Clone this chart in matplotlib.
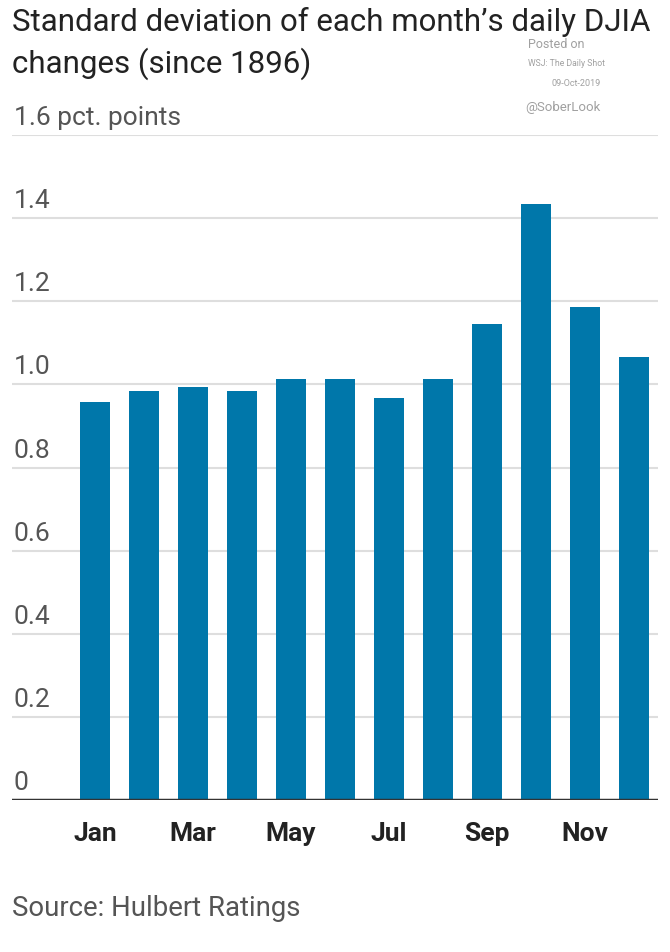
import numpy as np
import matplotlib
matplotlib.use("Agg")
import matplotlib.pyplot as plt

# std dev of daily DJIA changes, by month
months = ["Jan", "Feb", "Mar", "Apr", "May", "Jun",
          "Jul", "Aug", "Sep", "Oct", "Nov", "Dec"]
stdev = [0.957, 0.983, 0.993, 0.983, 1.014, 1.014,
         0.968, 1.014, 1.145, 1.434, 1.186, 1.067]
yticks = [0, 0.2, 0.4, 0.6, 0.8, 1.0, 1.2, 1.4, 1.6]
ylabels = ["0", "0.2", "0.4", "0.6", "0.8", "1.0", "1.2", "1.4", "1.6 pct. points"]

plt.rcParams['font.family'] = ['Roboto', 'DejaVu Sans']

fig = plt.figure(figsize=(6.7, 9.52), dpi=100)
ax = fig.add_axes([12/670, 152/952, 646/670, 665/952])

x = np.arange(len(months))
ax.bar(x, stdev, width=0.62, color='#0077aa', zorder=3)

ax.set_ylim(0, 1.6)
ax.set_xlim(-1.69, 11.49)

# gridlines + labels sitting on top of them
for v, lab in zip(yticks, ylabels):
    if v == 0:
        ax.axhline(0, color='#333333', linewidth=2.5, zorder=4)
    else:
        ax.axhline(v, color='#dedede', linewidth=1.5, zorder=1)
    ax.text(0.003, v + 0.012, lab, transform=ax.get_yaxis_transform(),
            ha='left', va='bottom', fontsize=19, color='#555555')

ax.set_yticks([])
ax.set_xticks(x[::2])
ax.set_xticklabels(months[::2], fontsize=19, fontweight='bold', color='#222222')
ax.tick_params(axis='x', length=0, pad=16)
for s in ax.spines.values():
    s.set_visible(False)

fig.text(12/670, 1 - 22/952, "Standard deviation of each month\u2019s daily DJIA",
         fontsize=22.5, color='#222222', ha='left', va='center')
fig.text(12/670, 1 - 64/952, "changes (since 1896)",
         fontsize=22.5, color='#222222', ha='left', va='center')

fig.text(528/670, 1 - 44/952, "Posted on", fontsize=9, color='#a0a0a0', ha='left', va='center')
fig.text(528/670, 1 - 64/952, "WSJ: The Daily Shot", fontsize=6.2, color='#a0a0a0', ha='left', va='center')
fig.text(601/670, 1 - 84/952, "09-Oct-2019", fontsize=6.5, color='#a0a0a0', ha='right', va='center')
fig.text(525/670, 1 - 108/952, "@SoberLook", fontsize=9.5, color='#a0a0a0', ha='left', va='center')

fig.text(12/670, 1 - 908/952, "Source: Hulbert Ratings", fontsize=19.8, color='#555555',
         ha='left', va='center')

fig.savefig("out.png", dpi=100)
